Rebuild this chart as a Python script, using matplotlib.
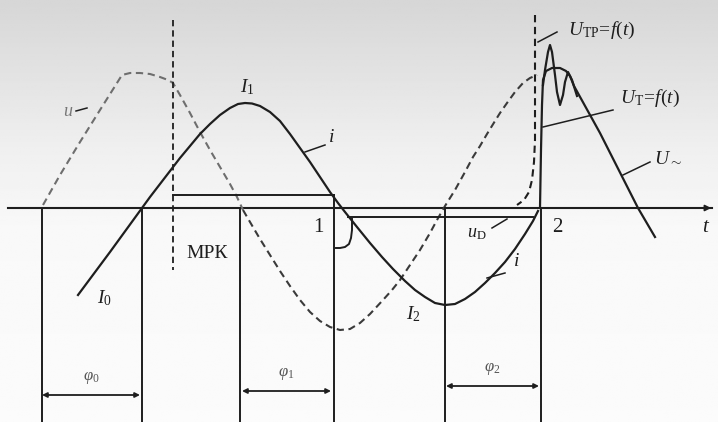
import numpy as np
import matplotlib.pyplot as plt

plt.rcParams['font.family'] = ['Liberation Serif', 'DejaVu Serif']
plt.rcParams['mathtext.fontset'] = 'custom'
plt.rcParams['mathtext.rm'] = 'Liberation Serif'
plt.rcParams['mathtext.it'] = 'Liberation Serif:italic'

# all coordinates in drawing units: t to the right, amplitude downwards (axis at 208)
axis_y = 208

# supply voltage u (dashed): rise, flat top, fall to the trough
u_left_t = [43, 60, 80, 100, 122, 130, 140, 150, 160, 168, 173, 180, 190, 200, 210, 220, 230, 237, 243]
u_left_y = [205, 175, 142, 110, 75, 73, 73, 74, 77, 80, 83, 95, 113, 132, 150, 167, 184, 197, 210]
u_right_t = [243, 250, 260, 270, 280, 290, 300, 310, 320, 330, 340, 350, 360, 370, 383, 392, 400, 410, 420,
             430, 437, 445, 455, 465, 473, 480, 487, 495, 500, 507, 515, 523, 530, 537]
u_right_y = [210, 222, 239, 255, 271, 286, 300, 312, 321, 327, 330, 329, 323, 314, 300, 290, 280, 265, 250,
             233, 220, 206, 190, 172, 157, 146, 134, 121, 113, 103, 92, 83, 78, 75]

# load current i (solid)
i_t = [78, 110, 142, 150, 160, 170, 180, 190, 200, 210, 220, 230, 238, 245, 252, 260, 270, 280, 290, 300,
       310, 320, 330, 338, 345, 357, 370, 382, 393, 405, 415, 425, 435, 445, 455, 465, 475, 485, 495,
       505, 515, 525, 533, 538]
i_y = [295, 252, 208, 197, 184, 171, 158, 146, 134, 124, 115, 108, 104, 103, 103.5, 106, 112, 121, 134, 148,
       162, 177, 192, 203, 212, 227, 243, 257, 269, 281, 290, 297, 303, 305, 304, 299, 292, 283, 273,
       262, 249, 234, 221, 211]

# transformer voltage U_T = f(t) and straight fall U~
ut_t = [540, 541, 542, 543, 546, 552, 560, 566, 570, 574, 600, 638, 655]
ut_y = [208, 150, 105, 80, 71, 68, 68, 71, 76, 86, 133, 208, 237]

# oscillating voltage U_TP = f(t)
utp_t = [543, 545, 548, 550, 552, 555, 557, 560, 563, 565, 568, 572, 577]
utp_y = [85, 70, 52, 45, 52, 75, 92, 105, 95, 82, 72, 80, 96]

# dashed U_TP approach near point 2
utp_dash_t = [535, 535, 534, 532, 529, 524, 517]
utp_dash_y = [15, 140, 162, 180, 192, 200, 205]

# commutation hook at point 1
hook_t = [352, 352, 351, 349, 345, 340, 336]
hook_y = [219, 230, 238, 244, 247, 248, 248]

# vertical markers dropping to the phase intervals
drop_t = [42, 142, 240, 334, 445, 541]
drop_top = [208, 208, 208, 195, 208, 208]

# phase intervals (start, end, level, label)
phi_start = [42, 242, 446]
phi_end = [140, 331, 539]
phi_level = [395, 391, 386]
phi_labels = [r'$\varphi_0$', r'$\varphi_1$', r'$\varphi_2$']

fig = plt.figure(figsize=(7.18, 4.22), dpi=100)
ax = fig.add_axes([0, 0, 1, 1])
ax.set_xlim(0, 718)
ax.set_ylim(422, 0)
ax.axis('off')

# paper shade, greyer towards the top
yy = np.linspace(0, 422, 200)
shade = np.interp(yy, [0, 60, 150, 230, 422], [0.84, 0.88, 0.94, 0.975, 0.985])
img = np.tile(shade[:, None], (1, 20))
ax.imshow(img, extent=[0, 718, 422, 0], cmap='gray', vmin=0, vmax=1, aspect='auto', zorder=0)

ink = '#1e1e1e'
lw = 1.6
dash = (0, (3.5, 2.2))

# time axis
ax.plot([8, 712], [axis_y, axis_y], color=ink, lw=1.5)
ax.annotate('', xy=(714, axis_y), xytext=(695, axis_y),
            arrowprops=dict(arrowstyle='-|>', color=ink, lw=1.2, mutation_scale=9))

# curves
ax.plot(u_left_t, u_left_y, color='#6e6e6e', lw=1.5, ls=dash)
ax.plot(u_right_t, u_right_y, color='#3a3a3a', lw=1.5, ls=dash)
ax.plot(i_t, i_y, color=ink, lw=lw, solid_joinstyle='round')
ax.plot(ut_t, ut_y, color=ink, lw=lw, solid_joinstyle='round')
ax.plot(utp_t, utp_y, color=ink, lw=lw, solid_joinstyle='round')
ax.plot(utp_dash_t, utp_dash_y, color=ink, lw=1.5, ls=dash)
ax.plot(hook_t, hook_y, color=ink, lw=1.4)

# MPK line
ax.plot([173, 173], [20, 270], color=ink, lw=1.3, ls=dash)

# step lines of the interval 1-2
ax.plot([173, 334], [195, 195], color=ink, lw=1.4)
ax.plot([348, 533], [217, 217], color=ink, lw=1.4)

# drop lines
for t0, top in zip(drop_t, drop_top):
    ax.plot([t0, t0], [top, 422], color=ink, lw=1.4)

# phase intervals
for a, b, lev, lab in zip(phi_start, phi_end, phi_level, phi_labels):
    ax.annotate('', xy=(b, lev), xytext=(a, lev),
                arrowprops=dict(arrowstyle='<|-|>', color=ink, lw=1.3, mutation_scale=7,
                                shrinkA=0, shrinkB=0))
    ax.text((a + b) / 2, lev - 17, lab, fontsize=12, color='#555555', ha='center', va='center')

# leaders
leaders = [
    ([76, 87], [111, 108]),
    ([305, 325], [152, 145]),
    ([487, 505], [278, 273]),
    ([492, 507], [228, 219]),
    ([538, 557], [42, 32]),
    ([543, 613], [127, 110]),
    ([623, 650], [175, 162]),
]
for lx, ly in leaders:
    ax.plot(lx, ly, color=ink, lw=1.1)

txt = dict(color=ink, ha='center', va='center')
ax.text(68, 111, r'$u$', fontsize=13, color='#777777', ha='center', va='center')
ax.text(247, 87, r'$I_1$', fontsize=14, **txt)
ax.text(331, 138, r'$i$', fontsize=14, **txt)
ax.text(104, 298, r'$I_0$', fontsize=14, **txt)
ax.text(413, 314, r'$I_2$', fontsize=14, **txt)
ax.text(516, 262, r'$i$', fontsize=14, **txt)
ax.text(477, 234, r'$u_{\mathrm{D}}$', fontsize=13, **txt)
ax.text(318, 228, '1', fontsize=15, **txt)
ax.text(557, 227, '2', fontsize=15, **txt)
ax.text(706, 228, r'$t$', fontsize=15, **txt)
ax.text(207, 253, 'МРК', fontsize=14, **txt)
ax.text(602, 30, r'$U_{\mathrm{ТР}}\!=\!f(t)$', fontsize=14, **txt)
ax.text(650, 98, r'$U_{\mathrm{Т}}\!=\!f(t)$', fontsize=14, **txt)
ax.text(668, 158, r'$U_{\sim}$', fontsize=14, **txt)

fig.savefig('out.png', dpi=100)
